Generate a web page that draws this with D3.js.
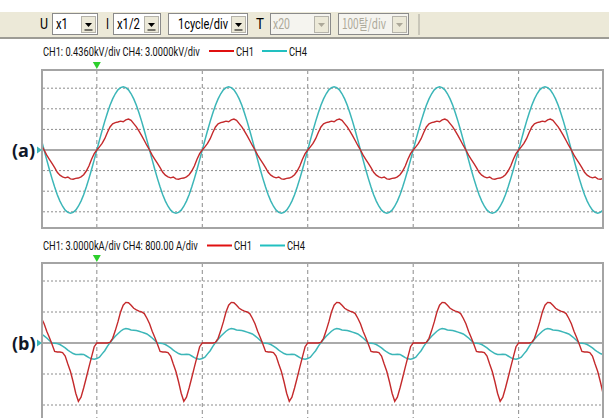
<!DOCTYPE html>
<html>
<head>
<meta charset="utf-8">
<script src="https://cdn.jsdelivr.net/npm/d3@7"></script>
<style>
  html, body { margin: 0; padding: 0; background: #fff; }
  svg { display: block; }
</style>
</head>
<body>
<div id="chart"></div>
<script>
const redA = [0, 0.15, 0.32, 0.55, 0.85, 1.12, 1.27, 1.33, 1.36, 1.40,
  1.37, 1.46, 1.50, 1.44, 1.28, 1.12, 0.92, 0.70, 0.46, 0.22,
  0, -0.25, -0.45, -0.65, -0.86, -1.08, -1.22, -1.30, -1.35, -1.31,
  -1.40, -1.42, -1.38, -1.36, -1.30, -1.20, -1.02, -0.78, -0.45, -0.18];
const cyanA = [0, 0.48, 0.95, 1.39, 1.80, 2.17, 2.48, 2.73, 2.92, 3.03,
  3.07, 3.03, 2.92, 2.73, 2.48, 2.17, 1.80, 1.39, 0.95, 0.48,
  0, -0.48, -0.95, -1.39, -1.80, -2.17, -2.48, -2.73, -2.92, -3.03,
  -3.07, -3.03, -2.92, -2.73, -2.48, -2.17, -1.80, -1.39, -0.95, -0.48];
const redB = [0, 0, 0, 0, 0, 0.02, 0.15, 0.40, 0.68, 1.00,
  1.22, 1.31, 1.30, 1.22, 1.12, 1.07, 1.03, 1.00, 0.95, 0.80,
  0.62, 0.38, 0.18, -0.04, -0.27, -0.29, -0.29, -0.31, -0.42, -0.68,
  -0.92, -1.25, -1.62, -1.88, -1.75, -1.45, -1.12, -0.78, -0.45, -0.12];
const cyanB = [-0.50, -0.46, -0.35, -0.25, -0.11, 0.01, 0.12, 0.22, 0.30, 0.38,
  0.44, 0.47, 0.45, 0.42, 0.41, 0.40, 0.38, 0.35, 0.32, 0.29,
  0.23, 0.16, 0.08, 0.00, -0.01, -0.02, -0.05, -0.10, -0.16, -0.23,
  -0.29, -0.34, -0.37, -0.37, -0.36, -0.37, -0.42, -0.47, -0.51, -0.52];

// screen settings
const timeGrid = [0, 1, 2, 3, 4];          // 1 cycle/div
const gridA = [-3, -2, -1, 1, 2, 3];
const gridB = [-2, -1, 1, 2];
const labelA = 'CH1: 0.4360kV/div  CH4: 3.0000kV/div';
const labelB = 'CH1: 3.0000kA/div  CH4: 800.00 A/div';
const channels = ['CH1', 'CH4'];
const toolbarItems = [
  { caption: 'U', capX: 40, x0: 52, x1: 97, text: 'x1', tx: 56, tw: 12, disabled: false },
  { caption: 'I', capX: 106, x0: 113, x1: 160, text: 'x1/2', tx: 117, tw: 23, disabled: false },
  { caption: '', capX: 0, x0: 168, x1: 247, text: '1cycle/div', tx: 178, tw: 50, disabled: false },
  { caption: 'T', capX: 256, x0: 270, x1: 330, text: 'x20', tx: 273, tw: 17, disabled: true },
  { caption: '', capX: 0, x0: 338, x1: 408, text: '100탈/div', tx: 342, tw: 44, disabled: true }
];

const RED = '#c42a2c';
const CYAN = '#3cb6b8';
const GRID = '#8c8c8c';
const narrow = '"Liberation Sans Narrow", "Arial Narrow", Roboto, sans-serif';

const svg = d3.select('#chart').append('svg')
  .attr('width', 609)
  .attr('height', 418);

// squeeze a text horizontally so it spans w pixels (the screenshot font is condensed)
function fitText(sel, x0, y0, w) {
  const len = sel.node().getComputedTextLength();
  sel.attr('x', 0).attr('y', 0)
    .attr('transform', `translate(${x0},${y0}) scale(${w / len},1)`);
  return sel;
}

// toolbar strip
svg.append('rect').attr('x', 0).attr('y', 12).attr('width', 609).attr('height', 25).attr('fill', '#ece9d8');
svg.append('rect').attr('x', 0).attr('y', 37).attr('width', 609).attr('height', 2).attr('fill', '#9d9c95');
svg.append('line').attr('x1', 419).attr('x2', 419).attr('y1', 14).attr('y2', 35).attr('stroke', '#a6a49a');

toolbarItems.forEach(d => {
  const g = svg.append('g');
  if (d.caption) {
    const cap = g.append('text')
      .style('font-family', narrow).style('font-size', '15px')
      .style('fill', '#000').text(d.caption);
    fitText(cap, d.capX, 29, d.caption === 'I' ? 3 : 8);
  }
  g.append('rect').attr('x', d.x0 + 0.5).attr('y', 13.5)
    .attr('width', d.x1 - d.x0).attr('height', 21)
    .attr('fill', d.disabled ? '#f5f4ef' : '#fff')
    .attr('stroke', '#8a8a8a');
  g.append('rect').attr('x', d.x1 - 15.5).attr('y', 16.5)
    .attr('width', 14).attr('height', 16)
    .attr('fill', '#ece9d8').attr('stroke', '#b5b3aa');
  const cx = d.x1 - 8.5;
  g.append('path')
    .attr('d', `M${cx - 3.5},23 L${cx + 3.5},23 L${cx},27 Z`)
    .attr('fill', d.disabled ? '#aca899' : '#000');
  if (!d.disabled) {
    g.append('line').attr('x1', cx - 4).attr('x2', cx + 4).attr('y1', 30).attr('y2', 30)
      .attr('stroke', '#000');
  }
  const t = g.append('text')
    .style('font-family', d.text.includes('탈') ? '"Noto Sans CJK KR", ' + narrow : narrow)
    .style('font-size', '14px')
    .style('fill', d.disabled ? '#aca899' : '#000')
    .text(d.text);
  fitText(t, d.tx, 29, d.tw);
});

// shared time scale
const x = d3.scaleLinear().domain([-0.52, 4.8]).range([42, 603]);

// tile the recorded cycle over the visible time span
function trace(cycle) {
  const pts = [];
  for (let k = -1; k <= 5; k++) {
    cycle.forEach((v, i) => pts.push({ t: k + i / cycle.length, v: v }));
  }
  return pts.filter(p => p.t >= -0.6 && p.t <= 4.9);
}

function drawPanel(cfg) {
  const y = d3.scaleLinear().domain([-1, 1]).range([cfg.center + cfg.div, cfg.center - cfg.div]);

  // header text + legend
  const lab = svg.append('text')
    .style('font-family', narrow).style('font-size', '13px').style('fill', '#111')
    .text(cfg.label);
  fitText(lab, 43, cfg.labelY, cfg.labelW);
  channels.forEach((c, i) => {
    const lx = cfg.legendX + i * 53;
    svg.append('line').attr('x1', lx).attr('x2', lx + 25)
      .attr('y1', cfg.labelY - 4.5).attr('y2', cfg.labelY - 4.5)
      .attr('stroke', i === 0 ? '#e01010' : '#22c0c0').attr('stroke-width', 2);
    const lt = svg.append('text')
      .style('font-family', narrow).style('font-size', '13px').style('fill', '#111')
      .text(c);
    fitText(lt, lx + 27, cfg.labelY, 18);
  });

  const clipId = 'clip' + cfg.id;
  svg.append('clipPath').attr('id', clipId).append('rect')
    .attr('x', 42).attr('y', cfg.top).attr('width', 561).attr('height', cfg.bottom - cfg.top);

  const g = svg.append('g');

  // grid
  g.selectAll('.hgrid').data(cfg.grid).enter().append('line')
    .attr('x1', 43).attr('x2', 602)
    .attr('y1', d => y(d)).attr('y2', d => y(d))
    .attr('stroke', GRID).attr('stroke-dasharray', '2,2');
  g.selectAll('.vgrid').data(timeGrid).enter().append('line')
    .attr('x1', d => x(d)).attr('x2', d => x(d))
    .attr('y1', cfg.top).attr('y2', cfg.bottom)
    .attr('stroke', GRID).attr('stroke-dasharray', '4,3');
  g.append('line').attr('x1', 42).attr('x2', 603)
    .attr('y1', y(0)).attr('y2', y(0))
    .attr('stroke', '#8e8e8e').attr('stroke-width', 1.6);

  // traces
  const line = d3.line().x(d => x(d.t)).y(d => y(d.v));
  const tg = g.append('g').attr('clip-path', `url(#${clipId})`);
  tg.append('path').datum(trace(cfg.cyan)).attr('d', line)
    .attr('fill', 'none').attr('stroke', CYAN).attr('stroke-width', 1.5);
  tg.append('path').datum(trace(cfg.red)).attr('d', line)
    .attr('fill', 'none').attr('stroke', RED).attr('stroke-width', 1.4);

  // frame
  g.append('rect').attr('x', 42).attr('y', cfg.top)
    .attr('width', 561).attr('height', cfg.bottom - cfg.top)
    .attr('fill', 'none').attr('stroke', '#a4a4a4').attr('stroke-width', 2);

  // trigger marker and ground marker
  const mx = x(0);
  svg.append('path')
    .attr('d', `M${mx - 4},${cfg.top - 8} L${mx + 4},${cfg.top - 8} L${mx},${cfg.top - 1} Z`)
    .attr('fill', '#2ccf2c');
  svg.append('path')
    .attr('d', `M37,${y(0) - 3.5} L42,${y(0)} L37,${y(0) + 3.5} Z`)
    .attr('fill', CYAN);

  svg.append('text').attr('x', 12).attr('y', y(0) + 6.5)
    .style('font-family', '"Open Sans", "DejaVu Sans", sans-serif')
    .style('font-size', '18px').style('font-weight', 'bold')
    .style('fill', '#101828').text(cfg.tag);
}

drawPanel({
  id: 'a', tag: '(a)', label: labelA, labelY: 55.5, labelW: 157, legendX: 209,
  top: 70, bottom: 228, center: 150, div: 20.6, grid: gridA, red: redA, cyan: cyanA
});
drawPanel({
  id: 'b', tag: '(b)', label: labelB, labelY: 250, labelW: 155, legendX: 207,
  top: 263, bottom: 424, center: 343, div: 31, grid: gridB, red: redB, cyan: cyanB
});
</script>
</body>
</html>
